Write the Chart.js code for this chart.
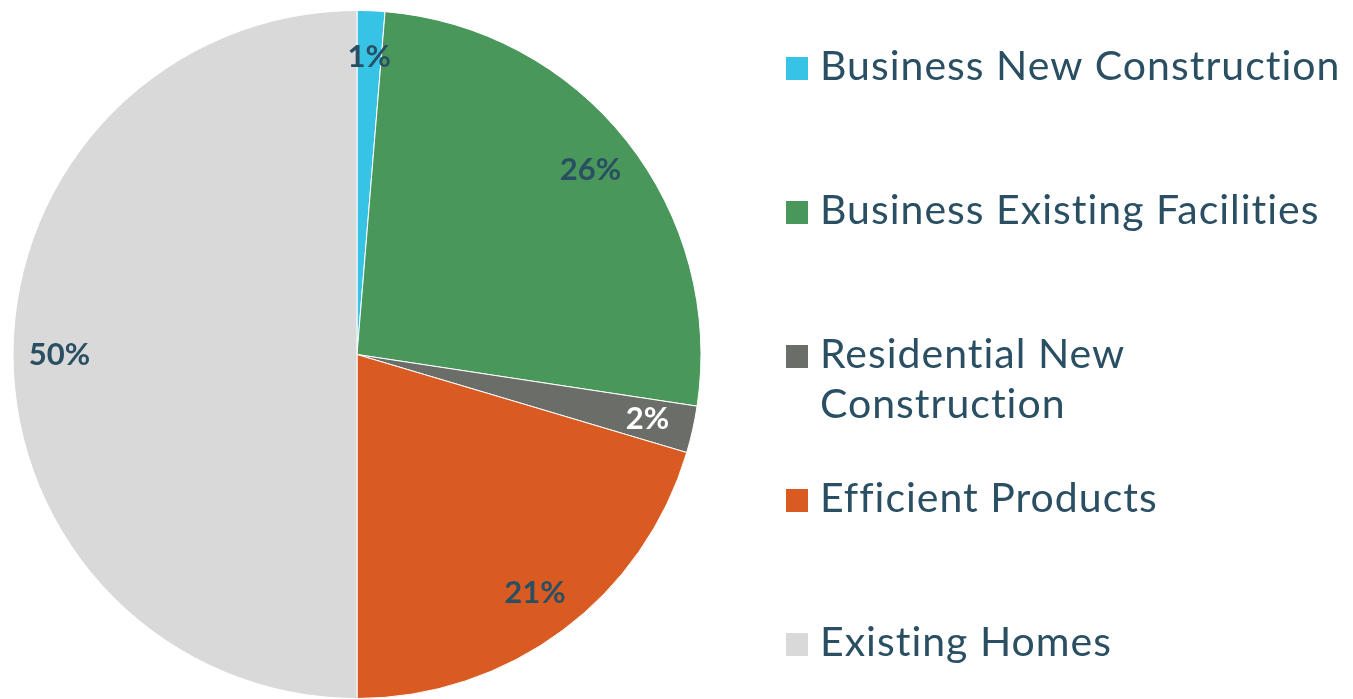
<!DOCTYPE html>
<html>
<head>
<meta charset="utf-8">
<script src="https://cdn.jsdelivr.net/npm/chart.js@4"></script>
<style>
  html, body { margin: 0; padding: 0; background: #fff; }
  #wrap { width: 1353px; height: 699px; position: relative; }
</style>
</head>
<body>
<div id="wrap"><canvas id="myChart"></canvas></div>
<script>
const categories = [
  "Business New Construction",
  "Business Existing Facilities",
  "Residential New Construction",
  "Efficient Products",
  "Existing Homes",
];
const shares = [1.3, 26.1, 2.2, 20.4, 50.0];
const shareLabels = ["1%", "26%", "2%", "21%", "50%"];
const colors = ["#37c3e6", "#4a975c", "#6b6e68", "#d95b22", "#d9d9d9"];
const labelColors = ["#2a4f63", "#2a4f63", "#ffffff", "#2a4f63", "#2a4f63"];
// legend lines (wrapped like the original)
const legendLines = [
  ["Business New Construction"],
  ["Business Existing Facilities"],
  ["Residential New", "Construction"],
  ["Efficient Products"],
  ["Existing Homes"],
];

const textColor = "#2a4f63";
const fontFamily = "Lato, 'Open Sans', sans-serif";

// percentage labels inside slices
const sliceLabels = {
  id: "sliceLabels",
  afterDatasetsDraw(chart) {
    const ctx = chart.ctx;
    const meta = chart.getDatasetMeta(0);
    ctx.save();
    ctx.font = "bold 31px " + fontFamily;
    ctx.textAlign = "center";
    ctx.textBaseline = "middle";
    meta.data.forEach((arc, i) => {
      const p = arc.getProps(["x", "y", "startAngle", "endAngle", "outerRadius"], true);
      const mid = (p.startAngle + p.endAngle) / 2;
      const r = p.outerRadius * 0.865;
      ctx.fillStyle = labelColors[i];
      ctx.fillText(shareLabels[i], p.x + Math.cos(mid) * r, p.y + Math.sin(mid) * r);
    });
    ctx.restore();
  },
};

// legend on the right, with wrapped entry
const sideLegend = {
  id: "sideLegend",
  afterDraw(chart) {
    const ctx = chart.ctx;
    ctx.save();
    ctx.font = "41px " + fontFamily;
    ctx.letterSpacing = "1px";
    ctx.textBaseline = "alphabetic";
    ctx.textAlign = "left";
    legendLines.forEach((lines, i) => {
      const base = 80 + i * 144;
      ctx.fillStyle = colors[i];
      ctx.fillRect(786, base - 23, 22, 23);
      ctx.fillStyle = textColor;
      lines.forEach((t, j) => ctx.fillText(t, 820, base + j * 50));
    });
    ctx.restore();
  },
};

const ctx = document.getElementById("myChart");

new Chart(ctx, {
  type: "pie",
  data: {
    labels: categories,
    datasets: [
      {
        data: shares,
        backgroundColor: colors,
        borderColor: "#ffffff",
        borderWidth: 1,
      },
    ],
  },
  options: {
    responsive: true,
    maintainAspectRatio: false,
    animation: false,
    layout: {
      padding: { left: 12, top: 10, right: 651, bottom: 0 },
    },
    plugins: {
      legend: { display: false },
      tooltip: { enabled: false },
    },
  },
  plugins: [sliceLabels, sideLegend],
});
</script>
</body>
</html>
